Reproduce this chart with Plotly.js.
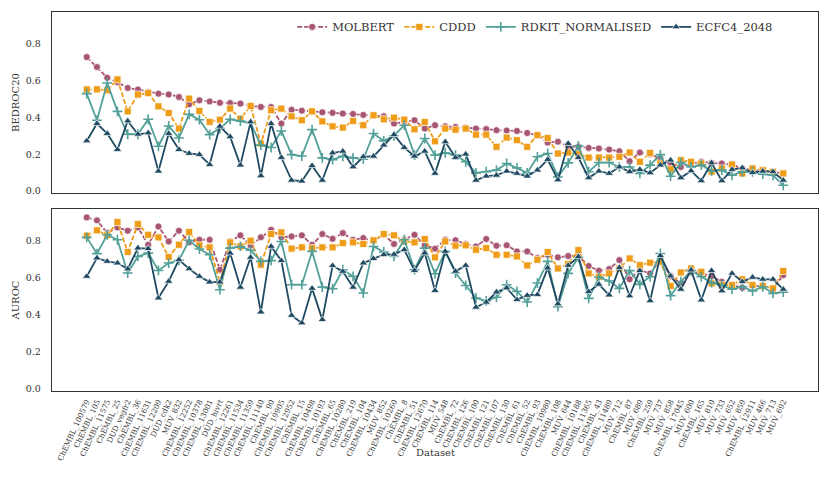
<!DOCTYPE html>
<html>
<head>
<meta charset="utf-8">
<script src="https://cdn.plot.ly/plotly-3.0.1.min.js"></script>
<style>html,body{margin:0;padding:0;background:#fff;}#chart{width:831px;height:498px;}</style>
</head>
<body>
<div id="chart"></div>
<script>
const categories = ["ChEMBL_100579","ChEMBL_105","ChEMBL_11575","ChEMBL_25","DUD_vegfr2","ChEMBL_36","ChEMBL_11631","ChEMBL_12209","DUD_cdk2","MUV_832","ChEMBL_12252","ChEMBL_10378","ChEMBL_13001","DUD_hivrt","ChEMBL_12261","ChEMBL_11534","ChEMBL_11359","ChEMBL_11140","ChEMBL_90","ChEMBL_19905","ChEMBL_12952","ChEMBL_15","ChEMBL_10498","ChEMBL_10193","ChEMBL_65","ChEMBL_10280","ChEMBL_219","ChEMBL_104","ChEMBL_10434","MUV_852","ChEMBL_10260","ChEMBL_8","ChEMBL_51","ChEMBL_12670","ChEMBL_114","MUV_548","ChEMBL_72","ChEMBL_126","ChEMBL_100","ChEMBL_121","ChEMBL_107","ChEMBL_130","ChEMBL_61","ChEMBL_52","ChEMBL_93","ChEMBL_10980","ChEMBL_108","MUV_644","ChEMBL_10188","ChEMBL_11365","ChEMBL_43","ChEMBL_11489","MUV_712","ChEMBL_87","MUV_689","ChEMBL_259","MUV_737","MUV_858","ChEMBL_17045","MUV_600","ChEMBL_165","MUV_810","MUV_733","MUV_652","MUV_859","ChEMBL_12911","MUV_466","MUV_713","MUV_692"];

const seriesNames = ["MOLBERT","CDDD","RDKIT_NORMALISED","ECFC4_2048"];

// BEDROC20 (top panel)
const bedrocMolbert = [0.726,0.672,0.614,0.59,0.559,0.55,0.537,0.528,0.524,0.51,0.47,0.492,0.486,0.479,0.477,0.474,0.461,0.456,0.456,0.366,0.441,0.436,0.43,0.427,0.424,0.42,0.418,0.413,0.409,0.405,0.366,0.375,0.384,0.339,0.357,0.351,0.348,0.344,0.339,0.336,0.33,0.328,0.326,0.315,0.303,0.263,0.268,0.243,0.24,0.234,0.231,0.225,0.216,0.162,0.209,0.2,0.177,0.15,0.131,0.15,0.159,0.153,0.15,0.144,0.123,0.114,0.11,0.105,0.096];
const bedrocCddd = [0.551,0.551,0.546,0.605,0.432,0.523,0.531,0.459,0.423,0.339,0.501,0.434,0.375,0.387,0.447,0.393,0.461,0.258,0.438,0.447,0.405,0.384,0.432,0.378,0.351,0.344,0.38,0.357,0.411,0.389,0.398,0.387,0.335,0.375,0.27,0.339,0.333,0.339,0.306,0.306,0.24,0.29,0.276,0.24,0.303,0.288,0.204,0.209,0.2,0.182,0.182,0.182,0.186,0.209,0.159,0.207,0.15,0.119,0.168,0.159,0.15,0.105,0.123,0.144,0.096,0.123,0.114,0.105,0.096];
const bedrocRdkit = [0.528,0.384,0.586,0.432,0.308,0.308,0.389,0.243,0.353,0.288,0.416,0.387,0.306,0.339,0.389,0.38,0.369,0.249,0.236,0.326,0.198,0.19,0.333,0.18,0.171,0.189,0.18,0.173,0.312,0.272,0.3,0.357,0.195,0.285,0.195,0.207,0.195,0.159,0.099,0.105,0.114,0.15,0.126,0.099,0.186,0.204,0.077,0.153,0.245,0.105,0.155,0.155,0.131,0.131,0.096,0.141,0.198,0.081,0.155,0.131,0.141,0.11,0.114,0.086,0.105,0.105,0.092,0.086,0.032];
const bedrocEcfc = [0.272,0.366,0.312,0.225,0.38,0.308,0.315,0.108,0.312,0.225,0.204,0.198,0.144,0.351,0.294,0.141,0.375,0.083,0.366,0.182,0.059,0.054,0.138,0.059,0.207,0.216,0.131,0.186,0.189,0.249,0.306,0.236,0.189,0.216,0.096,0.267,0.182,0.2,0.059,0.081,0.086,0.108,0.096,0.081,0.114,0.171,0.061,0.258,0.182,0.072,0.108,0.096,0.131,0.105,0.117,0.099,0.141,0.168,0.072,0.11,0.056,0.153,0.056,0.117,0.126,0.1,0.108,0.105,0.059];

// AUROC (bottom panel)
const aurocMolbert = [0.928,0.912,0.843,0.874,0.856,0.874,0.78,0.879,0.798,0.856,0.793,0.807,0.807,0.645,0.798,0.831,0.777,0.82,0.861,0.82,0.825,0.831,0.78,0.838,0.812,0.843,0.807,0.816,0.802,0.834,0.784,0.807,0.834,0.777,0.759,0.807,0.804,0.784,0.771,0.811,0.775,0.777,0.744,0.744,0.708,0.726,0.712,0.719,0.72,0.665,0.64,0.649,0.697,0.593,0.643,0.625,0.7,0.611,0.571,0.634,0.625,0.61,0.58,0.562,0.548,0.562,0.553,0.544,0.616];
const aurocCddd = [0.829,0.858,0.831,0.903,0.741,0.892,0.834,0.82,0.714,0.78,0.849,0.777,0.766,0.578,0.793,0.771,0.802,0.672,0.838,0.847,0.759,0.766,0.762,0.766,0.766,0.789,0.793,0.784,0.804,0.838,0.831,0.798,0.793,0.811,0.712,0.798,0.775,0.777,0.753,0.762,0.726,0.726,0.717,0.668,0.699,0.741,0.652,0.676,0.751,0.625,0.607,0.625,0.652,0.706,0.67,0.683,0.688,0.557,0.63,0.652,0.634,0.571,0.562,0.562,0.593,0.562,0.557,0.544,0.638];
const aurocRdkit = [0.82,0.732,0.834,0.807,0.627,0.717,0.735,0.641,0.681,0.696,0.804,0.757,0.726,0.537,0.762,0.771,0.75,0.69,0.694,0.798,0.564,0.564,0.744,0.551,0.542,0.645,0.609,0.519,0.771,0.741,0.717,0.807,0.645,0.762,0.623,0.744,0.627,0.56,0.492,0.477,0.496,0.564,0.528,0.47,0.573,0.69,0.445,0.625,0.712,0.49,0.604,0.584,0.544,0.64,0.566,0.607,0.733,0.505,0.58,0.64,0.607,0.575,0.562,0.539,0.553,0.53,0.553,0.517,0.524];
const aurocEcfc = [0.609,0.708,0.69,0.681,0.649,0.762,0.759,0.492,0.582,0.699,0.65,0.609,0.578,0.578,0.735,0.55,0.712,0.416,0.771,0.694,0.398,0.357,0.544,0.375,0.667,0.636,0.55,0.681,0.705,0.726,0.728,0.753,0.64,0.735,0.532,0.744,0.636,0.668,0.442,0.469,0.524,0.546,0.483,0.506,0.51,0.654,0.46,0.668,0.715,0.526,0.566,0.508,0.656,0.503,0.64,0.477,0.721,0.611,0.539,0.643,0.481,0.64,0.53,0.625,0.58,0.604,0.593,0.593,0.539];

const yTickVals = [0.0,0.2,0.4,0.6,0.8];
const yTickText = ["0.0","0.2","0.4","0.6","0.8"];

const colors = ["#a85574","#ef9c19","#52a098","#1f4a62"];
const dashes = ["5px,2px","5px,2px","solid","solid"];
const symbols = ["circle","square","cross-thin","triangle-up"];
const sizes = [7,7,7,7.5];

const topData = [bedrocMolbert,bedrocCddd,bedrocRdkit,bedrocEcfc];
const botData = [aurocMolbert,aurocCddd,aurocRdkit,aurocEcfc];

function marker(i){
  if (symbols[i]==="cross-thin") return {symbol:symbols[i],size:sizes[i],color:colors[i],line:{color:colors[i],width:1.6}};
  return {symbol:symbols[i],size:sizes[i],color:colors[i],line:{color:"#ffffff",width:0.7}};
}

const traces = [];
for (let i=0;i<4;i++){
  traces.push({x:categories,y:topData[i],type:"scatter",mode:"lines+markers",name:seriesNames[i],
    xaxis:"x2",yaxis:"y2",line:{color:colors[i],width:1.8,dash:dashes[i]},marker:marker(i),showlegend:true});
}
for (let i=0;i<4;i++){
  traces.push({x:categories,y:botData[i],type:"scatter",mode:"lines+markers",name:seriesNames[i],
    xaxis:"x",yaxis:"y",line:{color:colors[i],width:1.8,dash:dashes[i]},marker:marker(i),showlegend:false});
}

const FAM = "'DejaVu Serif', serif";
const font = {family:FAM,color:"#333"};
const frame = {showline:true,mirror:true,linecolor:"#333",linewidth:1.3,showgrid:false,zeroline:false,ticks:""};

const layout = {
  width:831,height:498,
  margin:{l:52,r:13,t:12,b:107},
  paper_bgcolor:"#fff",plot_bgcolor:"#fff",
  font:font,
  showlegend:true,
  legend:{orientation:"h",x:0.948,xanchor:"right",y:0.999,yanchor:"top",itemwidth:30,
    font:{family:FAM,size:11.5,color:"#333"},bgcolor:"rgba(0,0,0,0)",traceorder:"normal"},
  xaxis:Object.assign({},frame,{domain:[0,1],anchor:"y",type:"category",range:[-3.39,71.39],tickangle:-65,
    tickfont:{family:FAM,size:7.5,color:"#333"},ticklabelstandoff:2,automargin:false}),
  xaxis2:Object.assign({},frame,{domain:[0,1],anchor:"y2",type:"category",range:[-3.39,71.39],matches:"x",showticklabels:false}),
  yaxis:Object.assign({},frame,{domain:[0,0.48],anchor:"x",range:[-0.011,0.973],tickvals:yTickVals,ticktext:yTickText,
    tickfont:{family:FAM,size:9.5,color:"#333"},ticklabelstandoff:8,
    title:{text:"AUROC",font:{family:FAM,size:10,color:"#333"},standoff:4},automargin:false}),
  yaxis2:Object.assign({},frame,{domain:[0.5224,1],anchor:"x2",range:[-0.01,0.97],tickvals:yTickVals,ticktext:yTickText,
    tickfont:{family:FAM,size:9.5,color:"#333"},ticklabelstandoff:8,
    title:{text:"BEDROC20",font:{family:FAM,size:10,color:"#333"},standoff:4},automargin:false}),
  annotations:[{text:"Dataset",xref:"paper",yref:"paper",x:0.5,y:-0.162,xanchor:"center",yanchor:"middle",showarrow:false,
    font:{family:FAM,size:10,color:"#333"}}]
};

Plotly.newPlot("chart",traces,layout,{displayModeBar:false,staticPlot:true});
</script>
</body>
</html>
